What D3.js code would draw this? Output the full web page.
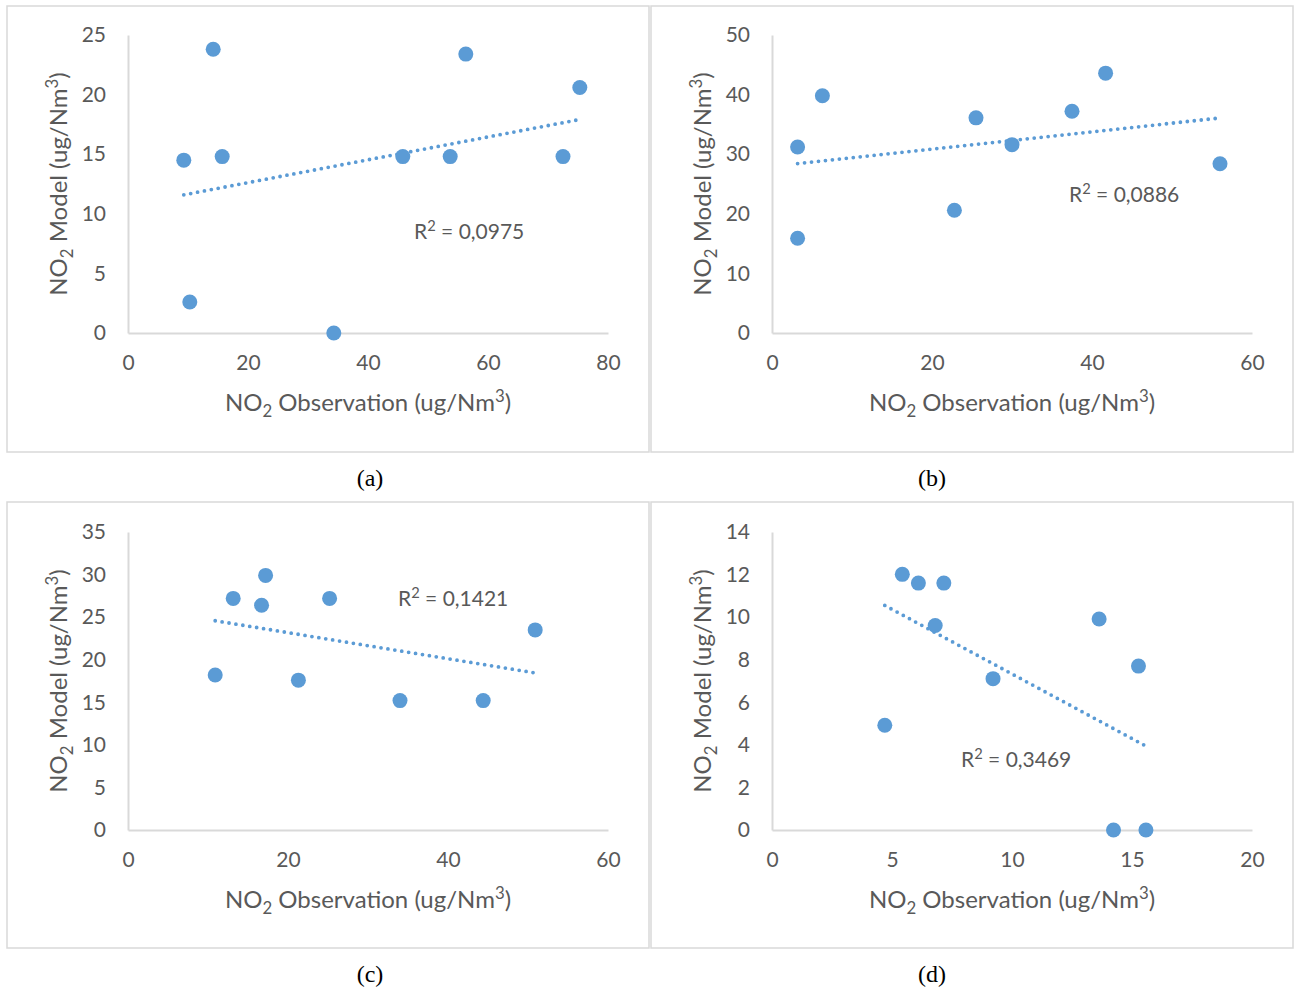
<!DOCTYPE html>
<meta charset="utf-8">
<head>
<script src="https://d3js.org/d3.v7.min.js"></script>
<style>
  body { margin: 0; background: #fff; }
  text { font-family: Lato, "Open Sans", sans-serif; fill: #595959; }
  .cap { font-family: "Liberation Serif", "DejaVu Serif", serif; fill: #000; }
</style>
</head>
<body>
<svg id="chart" width="1295" height="994"></svg>
<script>
// values
var obsA = [9.3, 14.2, 15.7, 10.3, 34.3, 45.8, 53.7, 56.3, 72.5, 75.3];
var modA = [14.5, 23.8, 14.8, 2.6, 0, 14.8, 14.8, 23.4, 14.8, 20.6];
var obsB = [3.2, 3.2, 6.3, 22.8, 25.5, 30.0, 37.5, 41.7, 56.0];
var modB = [31.2, 15.9, 39.8, 20.6, 36.1, 31.6, 37.2, 43.6, 28.4];
var obsC = [10.9, 13.15, 16.7, 17.2, 21.3, 25.2, 34.0, 44.4, 50.9];
var modC = [18.2, 27.2, 26.4, 29.9, 17.6, 27.2, 15.2, 15.2, 23.5];
var obsD = [4.7, 5.43, 6.1, 7.16, 6.8, 9.21, 13.63, 15.27, 14.23, 15.58];
var modD = [4.92, 12.01, 11.6, 11.6, 9.61, 7.11, 9.91, 7.7, 0, 0];

var xTicksA = [0, 20, 40, 60, 80], yTicksA = [0, 5, 10, 15, 20, 25];
var xTicksB = [0, 20, 40, 60],     yTicksB = [0, 10, 20, 30, 40, 50];
var xTicksC = [0, 20, 40, 60],     yTicksC = [0, 5, 10, 15, 20, 25, 30, 35];
var xTicksD = [0, 5, 10, 15, 20],  yTicksD = [0, 2, 4, 6, 8, 10, 12, 14];

var r2Labels = ["0,0975", "0,0886", "0,1421", "0,3469"];
var captions = ["(a)", "(b)", "(c)", "(d)"];

var blue = "#5b9bd5";
var svg = d3.select("#chart");

var panels = [
  {obs: obsA, mod: modA, xt: xTicksA, yt: yTicksA, bx: 7,   by: 6,   left: 128, top: 35,  r2x: 414,  r2y: 239, capX: 370, capY: 478},
  {obs: obsB, mod: modB, xt: xTicksB, yt: yTicksB, bx: 651, by: 6,   left: 772, top: 35,  r2x: 1069, r2y: 202, capX: 932, capY: 478},
  {obs: obsC, mod: modC, xt: xTicksC, yt: yTicksC, bx: 7,   by: 502, left: 128, top: 532, r2x: 398,  r2y: 606, capX: 370, capY: 974},
  {obs: obsD, mod: modD, xt: xTicksD, yt: yTicksD, bx: 651, by: 502, left: 772, top: 532, r2x: 961,  r2y: 767, capX: 932, capY: 974}
];

function addUnitLabel(sel, word) {
  sel.append("tspan").text("NO");
  sel.append("tspan").attr("font-size", "70%").attr("dy", 6).text("2");
  sel.append("tspan").attr("dy", -6).text(" " + word + " (ug/Nm");
  sel.append("tspan").attr("font-size", "70%").attr("dy", -9).text("3");
  sel.append("tspan").attr("dy", 9).text(")");
}

function fit(xs, ys) {
  var mx = d3.mean(xs), my = d3.mean(ys);
  var sxy = d3.sum(xs, function(v, i){ return (v - mx) * (ys[i] - my); });
  var sxx = d3.sum(xs, function(v){ return (v - mx) * (v - mx); });
  var b = sxy / sxx;
  return function(v){ return my + b * (v - mx); };
}

panels.forEach(function(p, k){
  var w = 480, h = 298;
  var g = svg.append("g");

  g.append("rect")
    .attr("x", p.bx).attr("y", p.by)
    .attr("width", 642).attr("height", 446)
    .attr("fill", "none").attr("stroke", "#d9d9d9").attr("stroke-width", 1.5);

  var x = d3.scaleLinear().domain(d3.extent(p.xt)).range([p.left, p.left + w]);
  var y = d3.scaleLinear().domain(d3.extent(p.yt)).range([p.top + h, p.top]);

  var ya = g.append("g").attr("transform", "translate(" + p.left + ",0)")
    .call(d3.axisLeft(y).tickValues(p.yt).tickSize(0).tickSizeOuter(0).tickPadding(22));
  var xa = g.append("g").attr("transform", "translate(0," + (p.top + h) + ")")
    .call(d3.axisBottom(x).tickValues(p.xt).tickSize(0).tickSizeOuter(0).tickPadding(22));
  [ya, xa].forEach(function(a){
    a.select(".domain").attr("stroke", "#d9d9d9").attr("stroke-width", 2);
    a.selectAll("text").attr("font-size", 21).attr("fill", "#595959")
      .style("font-family", "Lato, sans-serif");
  });

  // linear trendline over the data range
  var f = fit(p.obs, p.mod);
  var ext = d3.extent(p.obs);
  g.append("line")
    .attr("x1", x(ext[0])).attr("y1", y(f(ext[0])))
    .attr("x2", x(ext[1])).attr("y2", y(f(ext[1])))
    .attr("stroke", blue).attr("stroke-width", 3.8)
    .attr("stroke-linecap", "round").attr("stroke-dasharray", "0,7");

  g.selectAll("circle").data(p.obs).enter().append("circle")
    .attr("cx", function(d){ return x(d); })
    .attr("cy", function(d, i){ return y(p.mod[i]); })
    .attr("r", 7.5).attr("fill", blue);

  var r2 = g.append("text").attr("x", p.r2x).attr("y", p.r2y).attr("font-size", 21);
  r2.append("tspan").text("R");
  r2.append("tspan").attr("font-size", "70%").attr("dy", -8).text("2");
  r2.append("tspan").attr("dy", 8).text(" = " + r2Labels[k]);

  var xt = g.append("text")
    .attr("x", p.left + w / 2).attr("y", p.top + h + 78)
    .attr("text-anchor", "middle").attr("font-size", 24);
  addUnitLabel(xt, "Observation");

  var yt = g.append("text")
    .attr("transform", "translate(" + (p.left - 61) + "," + (p.top + h / 2) + ") rotate(-90)")
    .attr("text-anchor", "middle").attr("font-size", 24);
  addUnitLabel(yt, "Model");

  svg.append("text").attr("class", "cap")
    .attr("x", p.capX).attr("y", p.capY + 8)
    .attr("text-anchor", "middle").attr("font-size", 24)
    .text(captions[k]);
});
</script>
</body>
